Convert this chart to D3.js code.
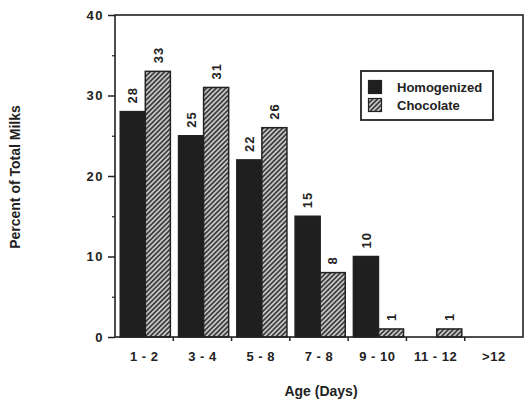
<!DOCTYPE html>
<html>
<head>
<meta charset="utf-8">
<script src="https://cdn.jsdelivr.net/npm/d3@7"></script>
<style>
  html, body { margin: 0; padding: 0; background: #fff; }
  svg { display: block; }
  text { font-family: "Liberation Sans", Arial, Helvetica, sans-serif; font-weight: bold; fill: #222; }
</style>
</head>
<body>
<svg id="chart" width="525" height="400"></svg>
<script>
// Share of total milks by age, per milk type
const ageGroups = ["1 - 2", "3 - 4", "5 - 8", "7 - 8", "9 - 10", "11 - 12", ">12"];
const homogenized = [28, 25, 22, 15, 10, null, null];
const chocolate = [33, 31, 26, 8, 1, 1, null];
const seriesNames = ["Homogenized", "Chocolate"];
const yTicks = [0, 10, 20, 30, 40];
const yMinorTicks = [5, 15, 25, 35];

const svg = d3.select("#chart");
const ink = "#222";

const plot = { left: 115, right: 523, top: 15, bottom: 337 };

const x = d3.scaleBand().domain(ageGroups).range([plot.left, plot.right]).padding(0);
const y = d3.scaleLinear().domain([0, 40]).range([plot.bottom, plot.top]);

// Diagonal hatch used for the chocolate series
const defs = svg.append("defs");
const pat = defs.append("pattern")
  .attr("id", "hatch")
  .attr("patternUnits", "userSpaceOnUse")
  .attr("width", 3.4).attr("height", 3.4)
  .attr("patternTransform", "rotate(45)");
pat.append("rect").attr("width", 3.4).attr("height", 3.4).attr("fill", "#c9c9c9");
pat.append("line").attr("x1", 0.9).attr("y1", 0).attr("x2", 0.9).attr("y2", 3.4)
  .attr("stroke", "#3a3a3a").attr("stroke-width", 1.7);

const bw = x.bandwidth();
const inner = d3.scaleBand().domain(seriesNames)
  .range([bw * 0.09, bw * 0.95]).padding(0);

const rows = ageGroups.map((g, i) => ({ group: g, values: [
  { key: "Homogenized", v: homogenized[i] },
  { key: "Chocolate", v: chocolate[i] }
]}));

const groups = svg.append("g").selectAll("g").data(rows).join("g")
  .attr("transform", d => `translate(${x(d.group)},0)`);

const bars = groups.selectAll("g").data(d => d.values.filter(b => b.v != null)).join("g");

bars.append("rect")
  .attr("x", d => inner(d.key))
  .attr("y", d => y(d.v))
  .attr("width", inner.bandwidth())
  .attr("height", d => y(0) - y(d.v))
  .attr("fill", d => d.key === "Homogenized" ? "#1f1f1f" : "url(#hatch)")
  .attr("stroke", ink)
  .attr("stroke-width", 1.5);

bars.append("text")
  .attr("transform", d => `translate(${inner(d.key) + inner.bandwidth() / 2},${y(d.v) - 8}) rotate(-90)`)
  .attr("dy", "0.36em")
  .attr("text-anchor", "start")
  .attr("font-size", 13)
  .attr("letter-spacing", 1)
  .text(d => d.v);

// Frame
svg.append("rect")
  .attr("x", plot.left).attr("y", plot.top)
  .attr("width", plot.right - plot.left).attr("height", plot.bottom - plot.top)
  .attr("fill", "none").attr("stroke", ink).attr("stroke-width", 1.6);

// Y axis
const yAxis = svg.append("g").attr("transform", `translate(${plot.left},0)`)
  .call(d3.axisLeft(y).tickValues(yTicks).tickSize(7).tickPadding(4));
yAxis.select(".domain").remove();
yAxis.selectAll(".tick line").attr("stroke", ink).attr("stroke-width", 1.5);
yAxis.selectAll(".tick text").attr("font-size", 13).attr("letter-spacing", 1.5)
  .attr("font-family", "Liberation Sans, Arial, sans-serif").attr("font-weight", "bold").attr("fill", ink);

const yMinor = svg.append("g").attr("transform", `translate(${plot.left},0)`)
  .call(d3.axisLeft(y).tickValues(yMinorTicks).tickSize(3).tickFormat(""));
yMinor.select(".domain").remove();
yMinor.selectAll(".tick line").attr("stroke", ink).attr("stroke-width", 1.2);

// X axis: ticks at category boundaries, labels centred in each band
const bounds = ageGroups.map(g => x(g)).concat([plot.right]);
svg.append("g").selectAll("line").data(bounds.slice(1, -1)).join("line")
  .attr("x1", d => d).attr("x2", d => d)
  .attr("y1", plot.bottom).attr("y2", plot.bottom + 4)
  .attr("stroke", ink).attr("stroke-width", 1.5);

svg.append("g").selectAll("text").data(ageGroups).join("text")
  .attr("x", d => x(d) + bw / 2)
  .attr("y", 361)
  .attr("text-anchor", "middle")
  .attr("font-size", 13)
  .attr("letter-spacing", 0.5)
  .text(d => d);

// Axis titles
svg.append("text")
  .attr("x", (plot.left + plot.right) / 2 + 2)
  .attr("y", 396)
  .attr("text-anchor", "middle")
  .attr("font-size", 14)
  .text("Age (Days)");

svg.append("text")
  .attr("transform", "translate(20,177) rotate(-90)")
  .attr("text-anchor", "middle")
  .attr("font-size", 14)
  .text("Percent of Total Milks");

// Legend
const legend = svg.append("g").attr("transform", "translate(361,71)");
legend.append("rect").attr("width", 132).attr("height", 49)
  .attr("fill", "#fff").attr("stroke", ink).attr("stroke-width", 1.8);
seriesNames.forEach((name, i) => {
  legend.append("rect")
    .attr("x", 7.5).attr("y", 9.5 + i * 18)
    .attr("width", 13).attr("height", 13)
    .attr("fill", i === 0 ? "#1f1f1f" : "url(#hatch)")
    .attr("stroke", ink).attr("stroke-width", 1.2);
  legend.append("text")
    .attr("x", 36).attr("y", 21 + i * 18)
    .attr("font-size", 13)
    .text(name);
});
</script>
</body>
</html>
